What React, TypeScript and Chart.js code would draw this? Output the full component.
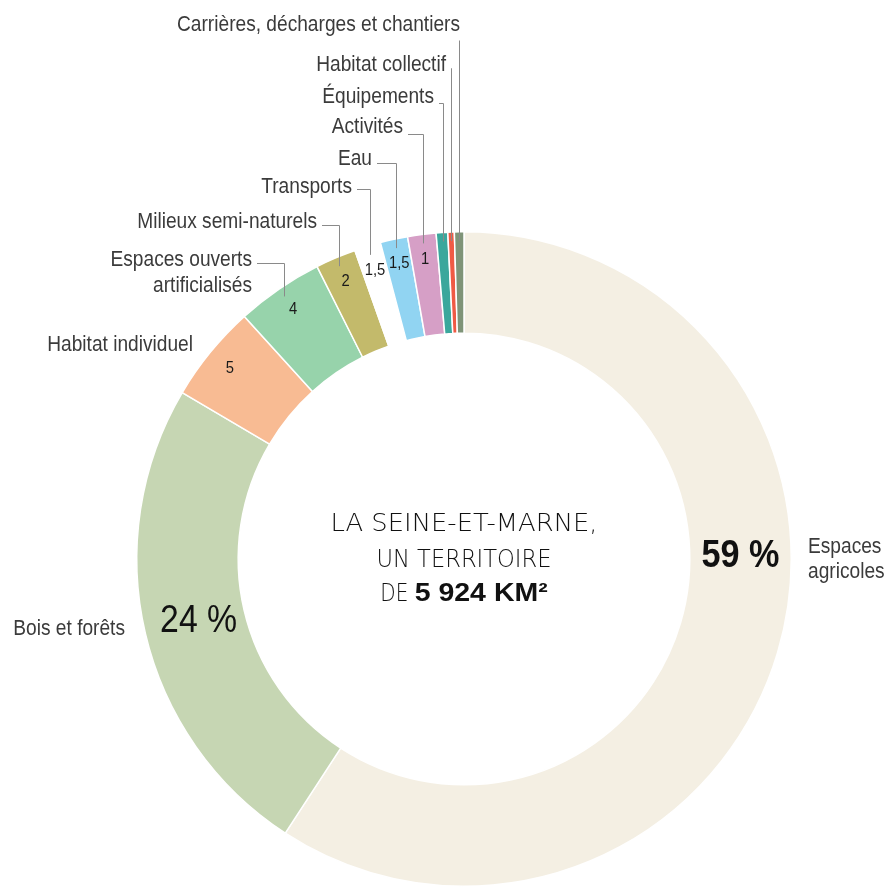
import { useEffect, useRef } from "react";
import { Chart, registerables } from "chart.js";

Chart.register(...registerables);

// ---- data ----
const categories = [
  "Espaces\nagricoles",
  "Bois et forêts",
  "Habitat individuel",
  "Espaces ouverts\nartificialisés",
  "Milieux semi-naturels",
  "Transports",
  "Eau",
  "Activités",
  "Équipements",
  "Habitat collectif",
  "Carrières, décharges et chantiers",
];
const values = [59.2, 24.3, 4.8, 4.3, 2.0, 1.3, 1.35, 1.4, 0.57, 0.32, 0.47];
const valueLabels = ["59 %", "24 %", "5", "4", "2", "1,5", "1,5", "1", "", "", ""];
const colors = [
  "#f4efe3",
  "#c6d6b3",
  "#f8bb93",
  "#97d3ab",
  "#c3ba6b",
  "#ffffff",
  "#91d4f2",
  "#d69fc6",
  "#3aa79c",
  "#ef5a45",
  "#7f9478",
];
const centerLines = ["LA SEINE-ET-MARNE,", "UN TERRITOIRE"];
const centerLast = ["DE ", "5 924 KM²"];

// ---- layout (positions of the annotation text) ----
type OutLabel = { x: number; y: number[]; align: CanvasTextAlign; leaderY?: number };
const outsideLayout: OutLabel[] = [
  { x: 808, y: [553, 578], align: "left" },
  { x: 125, y: [635], align: "right" },
  { x: 193, y: [351], align: "right" },
  { x: 252, y: [266, 292], align: "right", leaderY: 263 },
  { x: 317, y: [228], align: "right", leaderY: 225 },
  { x: 352, y: [193], align: "right", leaderY: 189 },
  { x: 372, y: [165], align: "right", leaderY: 163 },
  { x: 403, y: [133], align: "right", leaderY: 134 },
  { x: 434, y: [103], align: "right", leaderY: 103 },
  { x: 446, y: [71], align: "right", leaderY: 68 },
  { x: 460, y: [31], align: "right", leaderY: 40 },
];
// widths (px) of the center title lines, and their baselines relative to center
const centerWidths = [267, 175, 28, 133];
const centerBaselines = [-28, 8, 42];

const SANS = "'Liberation Sans', Arial, sans-serif";
const LIGHT = "'DejaVu Sans', 'Open Sans', sans-serif";
const NARROW_X = 0.87;

function drawScaled(ctx: CanvasRenderingContext2D, text: string, x: number, y: number, sx: number) {
  ctx.save();
  ctx.translate(x, y);
  ctx.scale(sx, 1);
  ctx.fillText(text, 0, 0);
  ctx.restore();
}

const labelPlugin = {
  id: "customLabels",
  afterDatasetsDraw(chart: any) {
    const ctx: CanvasRenderingContext2D = chart.ctx;
    const arcs = chart.getDatasetMeta(0).data as any[];
    const cx = arcs[0].x;
    const cy = arcs[0].y;
    const R = arcs[0].outerRadius;
    const r = arcs[0].innerRadius;
    ctx.save();

    // outside labels + leaders
    arcs.forEach((arc: any, i: number) => {
      const lay = outsideLayout[i];
      const lines = categories[i].split("\n");
      ctx.fillStyle = "#3b3b3b";
      ctx.font = `22px ${SANS}`;
      ctx.textAlign = lay.align;
      ctx.textBaseline = "alphabetic";
      lines.forEach((ln, k) => drawScaled(ctx, ln, lay.x, lay.y[k], NARROW_X));
      if (lay.leaderY !== undefined) {
        const mid = (arc.startAngle + arc.endAngle) / 2;
        const ex = Math.round(cx + Math.cos(mid) * (R - 9)) + 0.5;
        const ey = cy + Math.sin(mid) * (R - 9);
        ctx.strokeStyle = "#8a8a8a";
        ctx.lineWidth = 1;
        ctx.beginPath();
        const sx = lay.x + 5;
        const ly = Math.round(lay.leaderY) + 0.5;
        if (ex > sx) {
          ctx.moveTo(sx, ly);
          ctx.lineTo(ex, ly);
        } else {
          ctx.moveTo(ex, ly);
        }
        ctx.lineTo(ex, ey);
        ctx.stroke();
      }
    });

    // small numbers inside ring
    arcs.forEach((arc: any, i: number) => {
      if (i < 2 || !valueLabels[i]) return;
      const mid = (arc.startAngle + arc.endAngle) / 2;
      const rho = R - 25;
      ctx.fillStyle = "#1a1a1a";
      ctx.font = `17px ${SANS}`;
      ctx.textAlign = "center";
      ctx.textBaseline = "middle";
      drawScaled(ctx, valueLabels[i], cx + Math.cos(mid) * rho, cy + Math.sin(mid) * rho, NARROW_X);
    });

    // big percentages
    const ring = (R + r) / 2;
    ctx.textAlign = "center";
    ctx.textBaseline = "middle";
    ctx.fillStyle = "#111";
    ctx.font = `bold 38px ${SANS}`;
    drawScaled(ctx, valueLabels[0], cx + ring, cy - 2, 0.9);
    const midB = (arcs[1].startAngle + arcs[1].endAngle) / 2;
    ctx.font = `38px ${SANS}`;
    drawScaled(ctx, valueLabels[1], cx + Math.cos(midB) * (ring - 4), cy + Math.sin(midB) * (ring - 4), 0.89);

    // center title (each line fitted to its width)
    const lightFont = `200 24px ${LIGHT}`;
    const boldFont = `bold 25px ${SANS}`;
    ctx.fillStyle = "#111";
    ctx.textBaseline = "alphabetic";
    ctx.textAlign = "center";
    ctx.font = lightFont;
    centerLines.forEach((ln, k) => {
      const sx = centerWidths[k] / ctx.measureText(ln).width;
      drawScaled(ctx, ln, cx, cy + centerBaselines[k], sx);
    });
    ctx.font = lightFont;
    const sx1 = centerWidths[2] / ctx.measureText(centerLast[0].trim()).width;
    const w1 = ctx.measureText(centerLast[0]).width * sx1;
    ctx.font = boldFont;
    const sx2 = centerWidths[3] / ctx.measureText(centerLast[1]).width;
    const w2 = centerWidths[3];
    const x0 = cx - (w1 + w2) / 2;
    ctx.textAlign = "left";
    ctx.font = lightFont;
    drawScaled(ctx, centerLast[0], x0, cy + centerBaselines[2], sx1);
    ctx.font = boldFont;
    drawScaled(ctx, centerLast[1], x0 + w1, cy + centerBaselines[2], sx2);

    ctx.restore();
  },
};

export default function App() {
  const ref = useRef<HTMLCanvasElement | null>(null);
  useEffect(() => {
    if (!ref.current) return;
    const chart = new Chart(ref.current, {
      type: "doughnut",
      data: {
        labels: categories.map((c) => c.replace("\n", " ")),
        datasets: [
          {
            data: values,
            backgroundColor: colors,
            borderColor: "#ffffff",
            borderWidth: 1.5,
            hoverOffset: 0,
          },
        ],
      },
      options: {
        responsive: false,
        animation: false,
        cutout: "69%",
        events: [],
        layout: { padding: { left: 136, top: 231, right: 100, bottom: 8 } },
        plugins: { legend: { display: false }, tooltip: { enabled: false } },
      } as any,
      plugins: [labelPlugin],
    });
    return () => chart.destroy();
  }, []);
  return (
    <div style={{ position: "absolute", left: 0, top: 0, width: 892, height: 895, background: "#fff" }}>
      <canvas ref={ref} width={892} height={895} style={{ display: "block", width: 892, height: 895 }} />
    </div>
  );
}
